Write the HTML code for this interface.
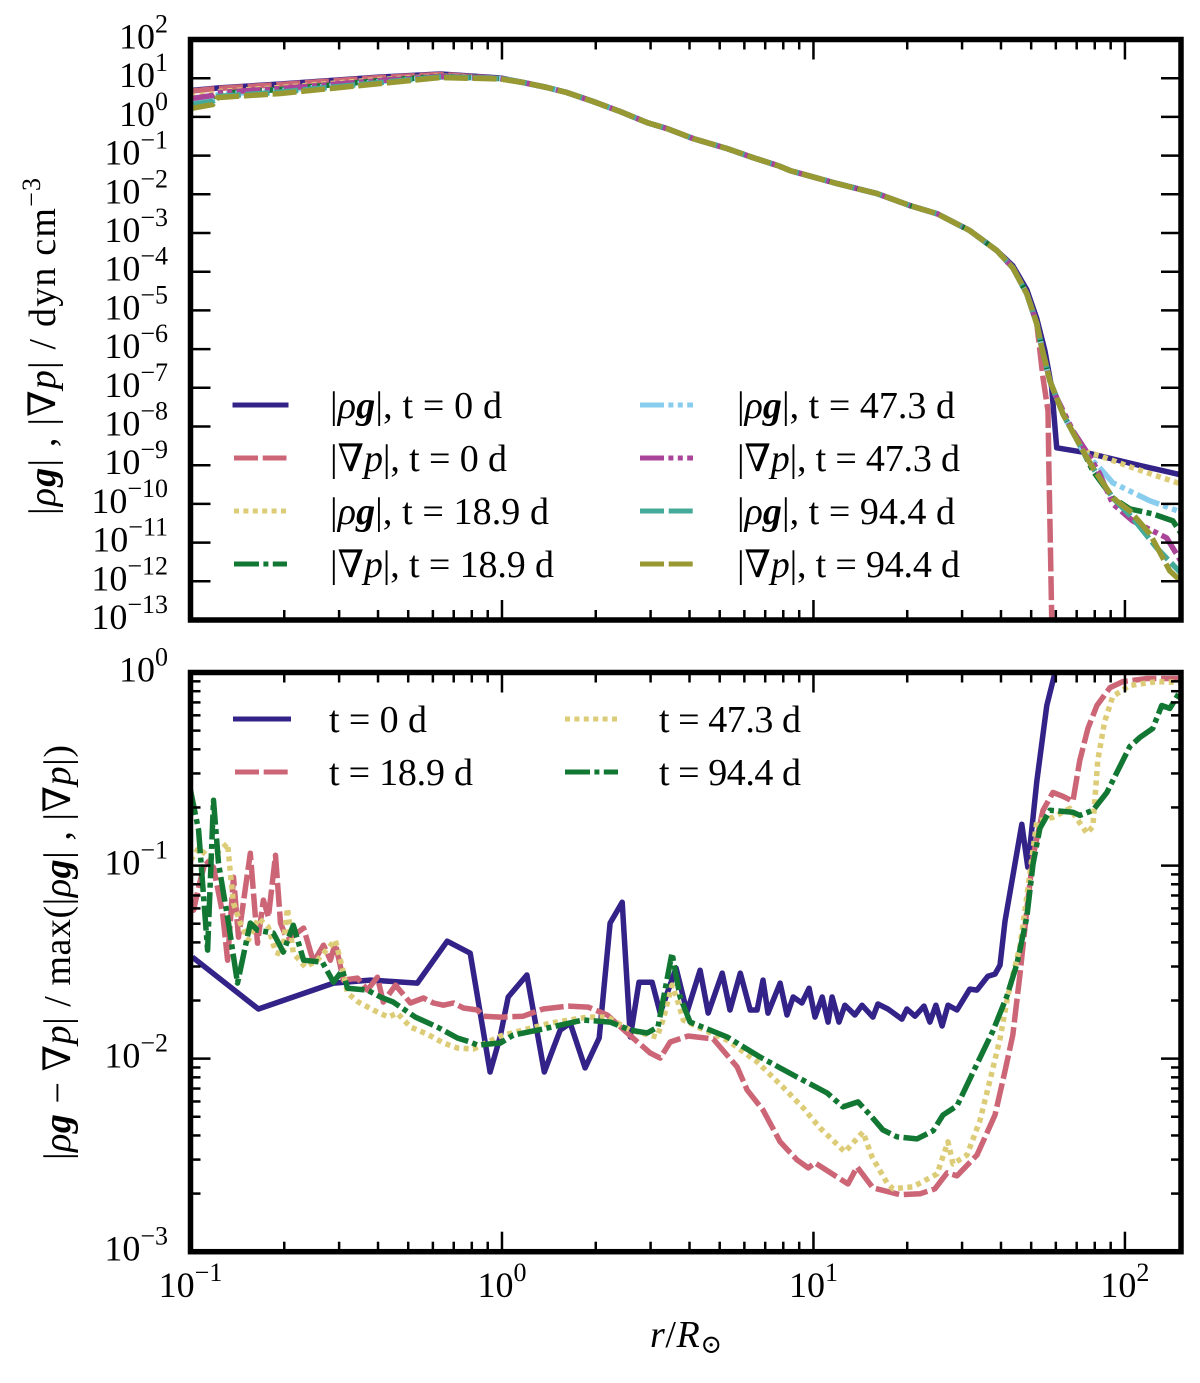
<!DOCTYPE html>
<html lang="en">
<head>
<meta charset="utf-8">
<title>Force balance profiles</title>
<style>
html,body{margin:0;padding:0;background:#fff;width:1200px;height:1383px;overflow:hidden}
svg{display:block;position:absolute;left:0;top:0}
text{font-family:"Liberation Serif","DejaVu Serif",serif;font-size:36px;fill:#000}
text.big{font-size:38px}
.i{font-style:italic}
.b{font-style:italic;font-weight:bold}
.n{font-family:"DejaVu Serif",serif;font-weight:normal;font-style:normal}
</style>
</head>
<body>
<svg id="chart" width="1200" height="1383" viewBox="0 0 1200 1383" xmlns="http://www.w3.org/2000/svg">
  <rect width="1200" height="1383" fill="#fff"/>
  <defs>
    <clipPath id="clip-top"><rect x="190.5" y="39.5" width="990.5" height="580.5"/></clipPath>
    <clipPath id="clip-bottom"><rect x="190.5" y="672.5" width="990.5" height="579.2"/></clipPath>
  </defs>
  <g id="top-series" clip-path="url(#clip-top)"></g>
  <g id="bottom-series" clip-path="url(#clip-bottom)"></g>
  <g id="axes"></g>
  <g id="legend-lines"></g>

  <text class="big" transform="translate(55,515) rotate(-90)" textLength="337">|<tspan class="i">ρ</tspan><tspan class="b">g</tspan>| , |<tspan class="n">∇</tspan><tspan class="i">p</tspan>| / dyn cm<tspan dy="-15" font-size="26">−3</tspan></text>
  <text class="big" transform="translate(70,1160) rotate(-90)" textLength="415">|<tspan class="i">ρ</tspan><tspan class="b">g</tspan> − <tspan class="n">∇</tspan><tspan class="i">p</tspan>| / max(|<tspan class="i">ρ</tspan><tspan class="b">g</tspan>| , |<tspan class="n">∇</tspan><tspan class="i">p</tspan>|)</text>
  <text class="big" x="650" y="1347" textLength="72"><tspan class="i">r</tspan>/<tspan class="i">R</tspan><tspan dy="6" font-size="26">⊙</tspan></text>

  <g>
    <text class="big" x="330" y="418" textLength="172">|<tspan class="i">ρ</tspan><tspan class="b">g</tspan>|, t = 0 d</text>
    <text class="big" x="330" y="471" textLength="177">|<tspan class="n">∇</tspan><tspan class="i">p</tspan>|, t = 0 d</text>
    <text class="big" x="330" y="524" textLength="219">|<tspan class="i">ρ</tspan><tspan class="b">g</tspan>|, t = 18.9 d</text>
    <text class="big" x="330" y="577" textLength="224">|<tspan class="n">∇</tspan><tspan class="i">p</tspan>|, t = 18.9 d</text>
    <text class="big" x="737" y="418" textLength="218">|<tspan class="i">ρ</tspan><tspan class="b">g</tspan>|, t = 47.3 d</text>
    <text class="big" x="737" y="471" textLength="223">|<tspan class="n">∇</tspan><tspan class="i">p</tspan>|, t = 47.3 d</text>
    <text class="big" x="737" y="524" textLength="218">|<tspan class="i">ρ</tspan><tspan class="b">g</tspan>|, t = 94.4 d</text>
    <text class="big" x="737" y="577" textLength="223">|<tspan class="n">∇</tspan><tspan class="i">p</tspan>|, t = 94.4 d</text>
  </g>
  <g>
    <text class="big" x="329" y="732" textLength="98">t = 0 d</text>
    <text class="big" x="329" y="785" textLength="144">t = 18.9 d</text>
    <text class="big" x="659" y="732" textLength="142">t = 47.3 d</text>
    <text class="big" x="659" y="785" textLength="142">t = 94.4 d</text>
  </g>
</svg>
<script>
// All radii and values are stored as log10(r / Rsun) and log10(quantity).
const xTickExponents = [-1, 0, 1, 2];
const topYTickExponents = [2, 1, 0, -1, -2, -3, -4, -5, -6, -7, -8, -9, -10, -11, -12, -13];
const bottomYTickExponents = [0, -1, -2, -3];
const minorMultipliers = [2, 3, 4, 5, 6, 7, 8, 9];

// Top panel: inner radii shared by all series
const innerLogR = [-1, -0.929, -0.913, -0.711, -0.390, -0.198, -0.005];
// Top panel: part of the profile where all series coincide
const commonLogR = [0.068, 0.145, 0.209, 0.293, 0.380, 0.466, 0.530, 0.614, 0.723, 0.806, 0.886, 0.925, 1.076, 1.204, 1.310, 1.397, 1.502, 1.589, 1.640, 1.685, 1.717, 1.733, 1.759, 1.801, 1.865];
const commonLogForce = [0.888, 0.759, 0.629, 0.397, 0.138, -0.146, -0.302, -0.560, -0.819, -1.051, -1.258, -1.388, -1.724, -1.982, -2.293, -2.500, -2.939, -3.456, -3.896, -4.568, -5.344, -5.965, -6.818, -7.672, -8.628];

const rhoG0Inner = [0.681, 0.733, 0.746, 0.849, 1.030, 1.108, 1.004];
const rhoG0TailR = [1.640, 1.685, 1.717, 1.743, 1.765, 1.781, 1.878, 2.025, 2.179];
const rhoG0Tail = [-3.844, -4.465, -5.215, -6.042, -6.999, -8.551, -8.680, -8.965, -9.249];

const gradP0Inner = [0.663, 0.720, 0.733, 0.836, 1.017, 1.095, 0.991];
const gradP0TailR = [1.737, 1.753, 1.756, 1.762, 1.765, 1.769];
const gradP0Tail = [-6.741, -7.594, -9.068, -11.654, -12.947, -14.06];

const rhoG18Inner = [0.526, 0.591, 0.655, 0.759, 0.966, 1.056, 0.991];
const rhoG18TailR = [1.919, 2.025, 2.179];
const rhoG18Tail = [-8.758, -9.068, -9.482];

const gradP18Inner = [0.423, 0.500, 0.604, 0.707, 0.940, 1.043, 0.991];
const gradP18TailR = [1.897, 1.961, 2.016, 2.089, 2.154, 2.179];
const gradP18Tail = [-9.146, -9.844, -10.128, -10.258, -10.439, -10.749];

const rhoG47Inner = [0.371, 0.448, 0.578, 0.681, 0.914, 1.030, 0.991];
const rhoG47TailR = [1.919, 1.961, 2.080, 2.179];
const rhoG47Tail = [-9.068, -9.456, -9.921, -10.206];

const gradP47Inner = [0.474, 0.552, 0.629, 0.733, 0.940, 1.043, 0.991];
const gradP47TailR = [1.781, 1.833, 1.881, 1.919, 1.961, 2.025, 2.134, 2.179];
const gradP47Tail = [-7.258, -8.111, -8.706, -9.223, -9.999, -10.439, -10.878, -11.473];

const rhoG94Inner = [0.319, 0.397, 0.526, 0.642, 0.888, 1.030, 0.991];
const rhoG94TailR = [1.897, 1.961, 2.025, 2.102, 2.179];
const rhoG94Tail = [-9.068, -9.844, -10.361, -11.137, -11.783];

const gradP94Inner = [0.216, 0.319, 0.500, 0.604, 0.862, 1.017, 0.979];
const gradP94TailR = [1.897, 1.961, 2.016, 2.080, 2.144, 2.179];
const gradP94Tail = [-9.068, -9.844, -10.180, -10.775, -11.732, -11.990];

// Bottom panel: relative residual
const resid0LogR = [-0.994,-0.782,-0.541,-0.423,-0.272,-0.176,-0.102,-0.038,-0.006,0.020,0.080,0.136,0.187,0.219,0.267,0.312,0.347,0.386,0.412,0.440,0.482,0.508,0.559,0.594,0.636,0.662,0.707,0.732,0.765,0.797,0.819,0.838,0.854,0.893,0.915,0.935,0.963,0.986,1.005,1.028,1.047,1.060,1.082,1.101,1.133,1.156,1.191,1.207,1.239,1.284,1.300,1.326,1.355,1.374,1.393,1.413,1.432,1.461,1.502,1.525,1.560,1.583,1.599,1.615,1.669,1.688,1.717,1.749,1.782,1.823];
const resid0Values = [-1.474,-1.743,-1.609,-1.593,-1.609,-1.392,-1.454,-2.069,-1.888,-1.681,-1.567,-2.069,-1.852,-1.816,-2.048,-1.893,-1.298,-1.190,-1.888,-1.604,-1.604,-1.764,-1.531,-1.759,-1.542,-1.764,-1.557,-1.748,-1.557,-1.748,-1.748,-1.593,-1.764,-1.609,-1.774,-1.681,-1.712,-1.635,-1.785,-1.681,-1.811,-1.681,-1.811,-1.723,-1.774,-1.723,-1.785,-1.717,-1.743,-1.795,-1.743,-1.780,-1.728,-1.811,-1.723,-1.831,-1.723,-1.748,-1.640,-1.645,-1.573,-1.562,-1.516,-1.288,-0.786,-1.009,-0.564,-0.171,0.041,0.27];

const resid18LogR = [-1.000,-0.990,-0.974,-0.952,-0.926,-0.897,-0.881,-0.862,-0.846,-0.808,-0.785,-0.766,-0.750,-0.727,-0.711,-0.689,-0.637,-0.605,-0.573,-0.551,-0.535,-0.509,-0.464,-0.432,-0.400,-0.381,-0.342,-0.294,-0.252,-0.220,-0.188,-0.156,-0.124,-0.079,-0.060,-0.005,0.068,0.132,0.213,0.277,0.338,0.402,0.476,0.508,0.540,0.598,0.678,0.755,0.787,0.838,0.893,0.947,0.983,1.005,1.111,1.140,1.191,1.278,1.342,1.390,1.429,1.461,1.525,1.583,1.615,1.640,1.663,1.685,1.705,1.737,1.769,1.801,1.833,1.855,1.881,1.910,1.952,1.993,2.070,2.179];
const resid18Values = [-1.205,-1.231,-1.112,-0.973,-1.009,-1.247,-1.490,-1.060,-1.371,-0.936,-1.402,-1.179,-1.267,-0.947,-1.298,-1.386,-1.324,-1.500,-1.412,-1.490,-1.402,-1.593,-1.583,-1.645,-1.578,-1.707,-1.619,-1.712,-1.686,-1.712,-1.723,-1.712,-1.738,-1.748,-1.780,-1.785,-1.780,-1.743,-1.728,-1.733,-1.774,-1.867,-1.971,-1.997,-1.914,-1.883,-1.898,-2.043,-2.162,-2.266,-2.431,-2.524,-2.566,-2.540,-2.649,-2.561,-2.669,-2.705,-2.700,-2.674,-2.592,-2.607,-2.499,-2.292,-2.064,-1.878,-1.562,-1.231,-0.952,-0.714,-0.621,-0.641,-0.667,-0.455,-0.290,-0.171,-0.078,-0.047,-0.031,-0.031];

const resid47LogR = [-1.000,-0.974,-0.936,-0.881,-0.872,-0.862,-0.840,-0.814,-0.782,-0.750,-0.727,-0.705,-0.689,-0.670,-0.631,-0.593,-0.535,-0.513,-0.496,-0.461,-0.413,-0.365,-0.336,-0.294,-0.240,-0.188,-0.143,-0.092,-0.005,0.068,0.155,0.274,0.338,0.412,0.498,0.517,0.546,0.566,0.582,0.636,0.723,0.819,0.902,0.967,1.021,1.101,1.159,1.188,1.236,1.255,1.320,1.397,1.432,1.448,1.493,1.534,1.566,1.599,1.624,1.663,1.688,1.717,1.769,1.823,1.878,1.897,1.913,1.935,1.961,2.016,2.102,2.179];
const resid47Values = [-0.973,-0.910,-0.962,-0.885,-1.040,-1.195,-1.298,-1.386,-1.273,-1.319,-1.448,-1.464,-1.221,-1.454,-1.526,-1.490,-1.386,-1.526,-1.660,-1.707,-1.748,-1.785,-1.764,-1.836,-1.873,-1.919,-1.945,-1.950,-1.883,-1.852,-1.816,-1.785,-1.785,-1.852,-1.888,-1.800,-1.619,-1.712,-1.800,-1.842,-1.904,-2.017,-2.147,-2.255,-2.359,-2.483,-2.380,-2.509,-2.643,-2.674,-2.664,-2.597,-2.431,-2.545,-2.499,-2.323,-2.116,-1.898,-1.676,-1.417,-1.123,-0.771,-0.750,-0.704,-0.833,-0.797,-0.455,-0.253,-0.124,-0.067,-0.047,-0.052];

const resid94LogR = [-1.000,-0.974,-0.945,-0.926,-0.910,-0.878,-0.849,-0.808,-0.785,-0.734,-0.702,-0.670,-0.637,-0.577,-0.541,-0.512,-0.496,-0.432,-0.390,-0.349,-0.278,-0.208,-0.143,-0.102,-0.079,-0.005,0.036,0.145,0.261,0.347,0.412,0.466,0.501,0.546,0.572,0.604,0.723,0.829,0.935,1.044,1.095,1.143,1.182,1.223,1.268,1.332,1.384,1.416,1.461,1.525,1.576,1.621,1.653,1.685,1.705,1.727,1.759,1.833,1.855,1.897,1.942,2.016,2.048,2.089,2.118,2.144,2.179];
const resid94Values = [-0.610,-0.817,-1.438,-0.662,-0.988,-1.298,-1.609,-1.298,-1.335,-1.350,-1.448,-1.309,-1.490,-1.500,-1.604,-1.542,-1.635,-1.645,-1.681,-1.707,-1.785,-1.836,-1.893,-1.914,-1.930,-1.919,-1.878,-1.842,-1.800,-1.811,-1.852,-1.867,-1.836,-1.454,-1.681,-1.811,-1.888,-1.992,-2.085,-2.178,-2.250,-2.224,-2.292,-2.369,-2.405,-2.416,-2.374,-2.292,-2.245,-2.028,-1.857,-1.676,-1.510,-1.267,-0.993,-0.807,-0.714,-0.724,-0.740,-0.714,-0.621,-0.383,-0.336,-0.290,-0.171,-0.186,-0.093];

const NS = 'http://www.w3.org/2000/svg';
const LEFT = 190.5, RIGHT = 1181;
const TOP1 = 39.5, BOT1 = 620, TOP2 = 672.5, BOT2 = 1251.7;
const XMIN = -1, XMAX = 2.18;

function xScale(logR) { return LEFT + (logR - XMIN) / (XMAX - XMIN) * (RIGHT - LEFT); }
function yTop(logV) { return TOP1 + (2 - logV) / 15 * (BOT1 - TOP1); }
function yBottom(logV) { return TOP2 + (0 - logV) / 3 * (BOT2 - TOP2); }

function make(tag, attrs, parent) {
  const el = document.createElementNS(NS, tag);
  for (const k in attrs) el.setAttribute(k, attrs[k]);
  parent.appendChild(el);
  return el;
}

const COLORS = { navy: '#332288', rose: '#CC6677', sand: '#DDCC77', green: '#117733', cyan: '#88CCEE', purple: '#AA4499', teal: '#44AA99', olive: '#999933' };
const DASH = { solid: 'none', dashed: '24 4.7', dotted: '5 4.4', dashdot: '25 4.4 5 4.4', dashdotdot: '24 4.4 5 4.4 5 4.4' };

function drawSeries(parent, rs, vs, yFn, color, dash) {
  const pts = rs.map(function (r, i) { return xScale(r).toFixed(1) + ',' + yFn(vs[i]).toFixed(1); }).join(' ');
  return make('polyline', {
    points: pts, fill: 'none', stroke: color, 'stroke-width': 5.5,
    'stroke-dasharray': dash, 'stroke-linejoin': 'round'
  }, parent);
}

function topR(count, tailR) { return innerLogR.concat(commonLogR.slice(0, count), tailR); }
function topV(inner, count, tail) { return inner.concat(commonLogForce.slice(0, count), tail); }

const topGroup = document.getElementById('top-series');
const bottomGroup = document.getElementById('bottom-series');
const axesGroup = document.getElementById('axes');
const legendGroup = document.getElementById('legend-lines');
let s;

s = drawSeries(topGroup, topR(18, rhoG0TailR), topV(rhoG0Inner, 18, rhoG0Tail), yTop, COLORS.navy, DASH.solid);


s = drawSeries(topGroup, topR(21, gradP0TailR), topV(gradP0Inner, 21, gradP0Tail), yTop, COLORS.rose, DASH.dashed);


s = drawSeries(topGroup, topR(25, rhoG18TailR), topV(rhoG18Inner, 25, rhoG18Tail), yTop, COLORS.sand, DASH.dotted);


s = drawSeries(topGroup, topR(25, gradP18TailR), topV(gradP18Inner, 25, gradP18Tail), yTop, COLORS.green, DASH.dashdot);


s = drawSeries(topGroup, topR(25, rhoG47TailR), topV(rhoG47Inner, 25, rhoG47Tail), yTop, COLORS.cyan, DASH.dashdotdot);


s = drawSeries(topGroup, topR(23, gradP47TailR), topV(gradP47Inner, 23, gradP47Tail), yTop, COLORS.purple, DASH.dashdotdot);


s = drawSeries(topGroup, topR(25, rhoG94TailR), topV(rhoG94Inner, 25, rhoG94Tail), yTop, COLORS.teal, DASH.dashed);


s = drawSeries(topGroup, topR(25, gradP94TailR), topV(gradP94Inner, 25, gradP94Tail), yTop, COLORS.olive, DASH.dashed);



s = drawSeries(bottomGroup, resid0LogR, resid0Values, yBottom, COLORS.navy, DASH.solid);


s = drawSeries(bottomGroup, resid18LogR, resid18Values, yBottom, COLORS.rose, DASH.dashed);


s = drawSeries(bottomGroup, resid47LogR, resid47Values, yBottom, COLORS.sand, DASH.dotted);


s = drawSeries(bottomGroup, resid94LogR, resid94Values, yBottom, COLORS.green, DASH.dashdot);



function tick(x1, y1, x2, y2) {
  const t = make('line', { x1: x1, y1: y1, x2: x2, y2: y2, stroke: '#000', 'stroke-width': 2.5 }, axesGroup);
  
  
}

function xTicks(top, bottom) {
  for (let e = -1; e <= 2; e++) {
    const x = xScale(e);
    tick(x, top, x, top + 20);
    tick(x, bottom, x, bottom - 20);
    minorMultipliers.forEach(function (m) {
      const lr = e + Math.log10(m);
      if (lr < XMAX) {
        tick(xScale(lr), top, xScale(lr), top + 10);
        tick(xScale(lr), bottom, xScale(lr), bottom - 10);
      }
    });
  }
}
xTicks(TOP1, BOT1);
xTicks(TOP2, BOT2);

topYTickExponents.forEach(function (e) {
  const y = yTop(e);
  tick(LEFT, y, LEFT + 20, y);
  tick(RIGHT, y, RIGHT - 20, y);
});
bottomYTickExponents.forEach(function (e) {
  const y = yBottom(e);
  tick(LEFT, y, LEFT + 20, y);
  tick(RIGHT, y, RIGHT - 20, y);
  if (e > -3) {
    minorMultipliers.forEach(function (m) {
      const yy = yBottom(e - 1 + Math.log10(m));
      tick(LEFT, yy, LEFT + 10, yy);
      tick(RIGHT, yy, RIGHT - 10, yy);
    });
  }
});

function frame(top, bottom) {
  const r = make('rect', { x: LEFT, y: top, width: RIGHT - LEFT, height: bottom - top, fill: 'none', stroke: '#000', 'stroke-width': 5.5 }, axesGroup);
  
  
}
frame(TOP1, BOT1);
frame(TOP2, BOT2);

function powerLabel(exp, x, y, anchor) {
  const t = make('text', { x: x, y: y, 'text-anchor': anchor }, axesGroup);
  
  
  t.appendChild(document.createTextNode('10'));
  const sup = make('tspan', { dy: -16, 'font-size': 26 }, t);
  sup.textContent = String(exp).replace('-', '\u2212');
}
topYTickExponents.forEach(function (e) { powerLabel(e, 168, yTop(e) + 9, 'end'); });
bottomYTickExponents.forEach(function (e) { powerLabel(e, 168, yBottom(e) + 9, 'end'); });
xTickExponents.forEach(function (e) { powerLabel(e, xScale(e), 1297, 'middle'); });

function legendLine(x, y, color, dash, width) {
  const l = make('line', { x1: x, y1: y, x2: x + width, y2: y, stroke: color, 'stroke-width': 5, 'stroke-dasharray': dash }, legendGroup);
  
  
}
legendLine(232.5, 405, COLORS.navy, DASH.solid, 56);
legendLine(234, 458, COLORS.rose, DASH.dashed, 52.5);
legendLine(234, 511, COLORS.sand, DASH.dotted, 52.5);
legendLine(234, 564, COLORS.green, DASH.dashdot, 53);
legendLine(640, 405, COLORS.cyan, DASH.dashdotdot, 53);
legendLine(640, 458, COLORS.purple, DASH.dashdotdot, 53);
legendLine(640, 511, COLORS.teal, DASH.dashed, 53);
legendLine(640, 564, COLORS.olive, DASH.dashed, 53);
legendLine(233, 719, COLORS.navy, DASH.solid, 58);
legendLine(235, 772, COLORS.rose, DASH.dashed, 53);
legendLine(565, 719, COLORS.sand, DASH.dotted, 52.5);
legendLine(565, 772, COLORS.green, DASH.dashdot, 53);
</script>
</body>
</html>
